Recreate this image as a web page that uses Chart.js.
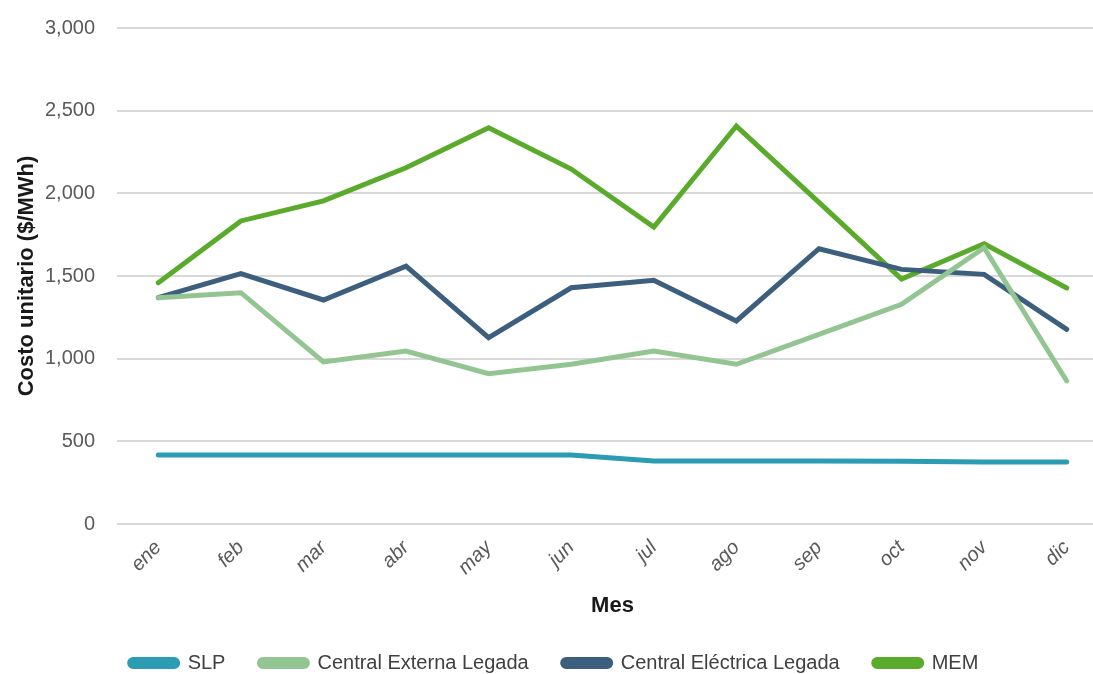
<!DOCTYPE html>
<html>
<head>
<meta charset="utf-8">
<script src="https://cdn.jsdelivr.net/npm/chart.js@4/dist/chart.umd.min.js"></script>
<style>
  html, body { margin: 0; padding: 0; background: #fff; overflow: hidden; }
  #wrap { position: relative; width: 1108px; height: 689px; margin-top: -6px; }
</style>
</head>
<body>
<div id="wrap"><canvas id="chart"></canvas></div>
<script>
// Costo unitario mensual por fuente de suministro ($/MWh)
const MONTHS = ['ene', 'feb', 'mar', 'abr', 'may', 'jun', 'jul', 'ago', 'sep', 'oct', 'nov', 'dic'];

const SLP = [417, 417, 417, 417, 417, 417, 381, 381, 381, 380, 375, 375];
const CENTRAL_EXTERNA = [1369, 1399, 980, 1046, 909, 966, 1046, 966, 1147, 1329, 1671, 865];
const CENTRAL_ELECTRICA = [1369, 1514, 1355, 1560, 1127, 1429, 1474, 1228, 1665, 1540, 1510, 1177];
const MEM = [1459, 1833, 1954, 2155, 2397, 2147, 1796, 2407, 1945, 1482, 1695, 1427];

const Y_MIN = 0;
const Y_MAX = 3000;
const Y_STEP = 500;

const FONT = '"Liberation Sans Narrow", "Arial Narrow", "Liberation Sans", Arial, sans-serif';

function series(label, data, color) {
    return {
        label,
        data,
        borderColor: color,
        backgroundColor: color,
        borderWidth: 5,
        pointRadius: 0,
        tension: 0,
        borderCapStyle: 'round',
        borderJoinStyle: 'miter',
    };
}

new Chart(document.getElementById('chart'), {
    type: 'line',
    data: {
        labels: MONTHS,
        datasets: [
            series('SLP', SLP, '#2b9cb3'),
            series('Central Externa Legada', CENTRAL_EXTERNA, '#93c593'),
            series('Central Eléctrica Legada', CENTRAL_ELECTRICA, '#3d5f7e'),
            series('MEM', MEM, '#5aab2b'),
        ],
    },
    options: {
        responsive: true,
        maintainAspectRatio: false,
        animation: false,
        layout: { padding: { top: 11, left: 0, right: 0, bottom: 0 } },
        plugins: {
            legend: {
                position: 'bottom',
                labels: {
                    font: { family: FONT, size: 20 },
                    color: '#404040',
                    boxWidth: 48,
                    boxHeight: 7,
                    useBorderRadius: true,
                    borderRadius: 3.5,
                    padding: 34,
                },
            },
            tooltip: { enabled: false },
        },
        scales: {
            x: {
                offset: true,
                grid: { display: false },
                border: { display: false },
                ticks: {
                    font: { family: FONT, size: 20, style: 'italic' },
                    color: '#595959',
                    minRotation: 45,
                    maxRotation: 45,
                    padding: 4,
                },
                title: {
                    display: true,
                    text: 'Mes',
                    font: { family: FONT, size: 22, weight: 'bold' },
                    color: '#1a1a1a',
                    padding: { top: 4, bottom: 0 },
                },
                afterFit: (scale) => { scale.height = 95; },
            },
            y: {
                min: Y_MIN,
                max: Y_MAX,
                border: { display: false },
                grid: { color: '#d9d9d9', lineWidth: 2, drawTicks: false },
                ticks: {
                    stepSize: Y_STEP,
                    font: { family: FONT, size: 20 },
                    color: '#595959',
                    padding: 22,
                    callback: (v) => v.toLocaleString('en-US'),
                },
                title: {
                    display: true,
                    text: 'Costo unitario ($/MWh)',
                    font: { family: FONT, size: 22, weight: 'bold' },
                    color: '#1a1a1a',
                    padding: { top: 14, bottom: 6 },
                },
                afterFit: (scale) => { scale.width = 117; },
            },
        },
    },
});
</script>
</body>
</html>
